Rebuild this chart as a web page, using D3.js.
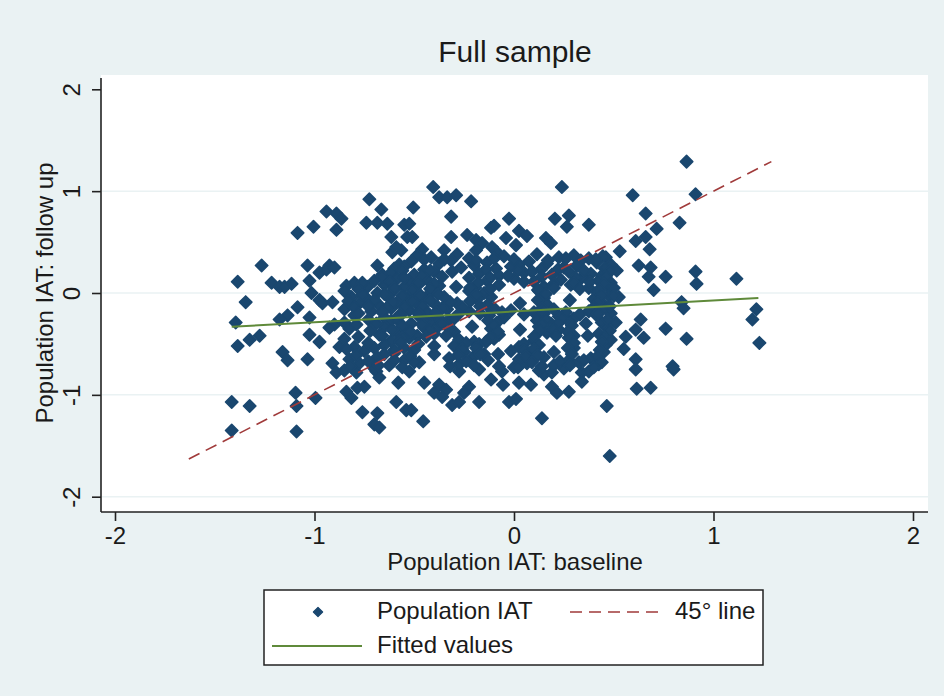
<!DOCTYPE html>
<html><head><meta charset="utf-8">
<script src="https://cdn.jsdelivr.net/npm/d3@7"></script>
<style>
html,body{margin:0;padding:0;background:#eaf2f3;}
text{font-family:"Liberation Sans",Arial,sans-serif;fill:#1a1a1a;}
</style></head><body>
<script>
// ---- data: [baseline IAT, follow-up IAT] ----
const upperPoints = [
[-0.725,0.92],[-0.665,0.82],[-0.94,0.80],[-0.89,0.78],[-0.865,0.73],[-0.74,0.69],[-0.685,0.69],[-0.635,0.68],[-0.55,0.67],[-1.005,0.65],[-1.085,0.59],[-0.89,0.62],[-0.615,0.55],[-0.61,0.40],[-0.565,0.42],[-0.59,0.45],[-0.535,0.55],
[-0.405,1.04],[-0.375,0.94],[-0.335,0.94],[-0.29,0.96],[-0.215,0.90],[-0.505,0.84],[-0.315,0.75],[-0.025,0.73],[-0.115,0.64],[-0.10,0.66],[-0.235,0.57],[0.025,0.61],[0.065,0.56],[0.24,1.04],[0.205,0.73],[0.275,0.76],[0.265,0.65],[0.375,0.67],[-0.315,0.55],[-0.51,0.55],[0.16,0.54],[0.185,0.49],[-0.19,0.52],[-0.16,0.49],[-0.04,0.54],[0.01,0.47],[-0.46,0.43],[-0.35,0.42],[-0.11,0.45],[-0.19,0.42],[-0.085,0.40],[-0.525,0.68],
[0.865,1.29],[0.595,0.96],[0.91,0.97],[0.66,0.78],[0.83,0.69],[0.715,0.63],[0.61,0.51],[0.66,0.55],[0.68,0.43],[0.53,0.41],[0.46,0.35]
];
const leftPoints = [
[-1.265,0.27],[-1.035,0.27],[-0.925,0.27],[-0.975,0.20],[-0.94,0.23],[-0.90,0.25],[-0.685,0.27],[-0.575,0.28],[-0.66,0.18],[-1.385,0.11],[-1.215,0.10],[-1.175,0.06],[-1.115,0.09],[-1.15,0.06],[-1.025,0.12],[-1.015,0.00],[-0.84,0.07],[-0.80,0.10],[-0.735,0.06],[-0.975,-0.07],[-0.91,-0.09],[-0.96,-0.10],[-1.345,-0.09],[-1.085,-0.14],[-1.135,-0.22],[-1.175,-0.26],[-1.025,-0.24],[-1.395,-0.29],[-0.90,-0.31],[-0.925,-0.34],[-1.025,-0.41],[-0.975,-0.48],[-1.325,-0.46],[-1.275,-0.42],[-1.385,-0.52],[-1.16,-0.58],[-1.135,-0.66],[-1.035,-0.65],[-0.875,-0.53],[-0.91,-0.69]
];
const rightPoints = [
[0.625,0.27],[0.685,0.25],[0.675,0.16],[0.76,0.16],[0.91,0.21],[0.915,0.09],[1.115,0.14],[0.70,0.03],[0.525,-0.04],[0.84,-0.09],[0.85,-0.15],[0.485,-0.20],[1.215,-0.16],[1.195,-0.26],[0.635,-0.26],[0.61,-0.36],[0.65,-0.44],[0.51,-0.29],[0.76,-0.35],[0.56,-0.43],[0.865,-0.45],[1.23,-0.49],[0.46,-0.51],[0.55,-0.55],[0.61,-0.65],[0.795,-0.72]
];
const lowerPoints = [
[-1.415,-1.07],[-1.325,-1.11],[-1.415,-1.35],[-1.095,-0.98],[-1.09,-1.11],[-1.09,-1.36],[-0.995,-1.03],[-0.89,-0.78],[-0.84,-0.97],[-0.815,-1.03],[-0.785,-0.93],[-0.75,-0.92],[-0.76,-1.17],[-0.685,-1.18],[-0.70,-1.29],[-0.675,-1.32],[-0.59,-1.07],[-0.58,-0.88],[-0.69,-0.77],[-0.675,-0.83],[-0.79,-0.78],[-0.54,-1.15],
[-0.45,-0.88],[-0.375,-0.90],[-0.40,-0.98],[-0.36,-1.02],[-0.34,-0.95],[-0.31,-1.10],[-0.275,-1.07],[-0.225,-0.92],[-0.25,-0.98],[-0.175,-1.07],[-0.115,-0.85],[-0.055,-0.90],[-0.025,-1.07],[0.01,-1.04],[0.025,-0.88],[0.085,-0.90],[0.14,-1.23],[-0.455,-1.26],[-0.515,-1.15],[0.15,-0.80],[0.19,-0.78],[0.19,-0.92],[0.215,-0.98],[0.275,-0.97],[0.34,-0.78],[0.34,-0.87],[-0.275,-0.77],[-0.06,-0.77],
[0.615,-0.94],[0.685,-0.93],[0.465,-1.11],[0.48,-1.60],[0.80,-0.75],[0.61,-0.75]
];
const corePoints = [
[-0.485,0.37],[-0.415,0.35],[-0.285,0.38],[-0.225,0.34],[-0.05,0.36],[0.115,0.38],[0.225,0.35],[0.30,0.37],[0.375,0.34],[0.445,0.36],
[-0.515,0.31],[-0.375,0.29],[-0.315,0.32],[-0.135,0.30],[0.025,0.28],[0.075,0.31],[0.165,0.29],[0.335,0.32],[0.415,0.30],[0.485,0.28],
[-0.60,0.24],[-0.55,0.26],[-0.45,0.23],[-0.265,0.25],[-0.20,0.27],[-0.09,0.24],[-0.015,0.26],[0.135,0.23],[0.25,0.25],[0.315,0.27],[0.455,0.24],[0.515,0.22],
[-0.615,0.20],[-0.50,0.18],[-0.40,0.21],[-0.175,0.19],[-0.075,0.17],[0.05,0.20],[0.19,0.18],[0.275,0.21],[0.385,0.19],[0.44,0.17],
[-0.70,0.12],[-0.585,0.14],[-0.525,0.11],[-0.435,0.13],[-0.225,0.15],[-0.135,0.12],[0,0.14],[0.10,0.11],[0.235,0.13],[0.34,0.15],[0.425,0.12],[0.485,0.10],
[-0.65,0.08],[-0.55,0.06],[-0.475,0.09],[-0.375,0.07],[-0.195,0.05],[-0.075,0.08],[0.15,0.06],[0.285,0.08],[0.375,0.05],[0.465,0.07],
[-0.85,0.02],[-0.685,0.00],[-0.60,0.03],[-0.50,0.01],[-0.425,-0.01],[-0.225,0.02],[-0.15,0.00],[0.125,0.02],[0.415,0.01],
[-0.815,-0.04],[-0.735,-0.06],[-0.635,-0.03],[-0.535,-0.05],[-0.45,-0.07],[-0.35,-0.04],[-0.185,-0.06],[-0.115,-0.04],[0.15,-0.05],[0.40,-0.06],[0.475,-0.03],
[-0.775,-0.10],[-0.675,-0.12],[-0.585,-0.09],[-0.485,-0.11],[-0.385,-0.13],[-0.285,-0.10],[-0.135,-0.12],[0.165,-0.11],[0.44,-0.10],
[-0.85,-0.16],[-0.715,-0.18],[-0.615,-0.15],[-0.525,-0.17],[-0.435,-0.19],[-0.335,-0.16],[-0.225,-0.18],[-0.10,-0.15],[-0.015,-0.17],[0.10,-0.19],[0.20,-0.16],[0.375,-0.18],[0.45,-0.15],
[-0.80,-0.22],[-0.65,-0.24],[-0.565,-0.21],[-0.475,-0.23],[-0.375,-0.25],[-0.125,-0.22],[-0.05,-0.24],[0.125,-0.21],[0.225,-0.23],[0.30,-0.25],[0.415,-0.22],
[-0.85,-0.29],[-0.615,-0.27],[-0.515,-0.30],[-0.415,-0.28],[-0.325,-0.26],[-0.085,-0.29],[0.115,-0.27],[0.185,-0.30],[0.275,-0.28],[0.44,-0.29],
[-0.825,-0.35],[-0.65,-0.33],[-0.55,-0.36],[-0.45,-0.34],[-0.375,-0.32],[-0.115,-0.35],[0.125,-0.33],[0.225,-0.36],[0.465,-0.34],
[-0.675,-0.41],[-0.585,-0.39],[-0.485,-0.42],[-0.40,-0.40],[-0.30,-0.38],[-0.075,-0.41],[0.165,-0.39],[0.30,-0.42],[0.425,-0.40],
[-0.85,-0.45],[-0.615,-0.47],[-0.525,-0.44],[-0.275,-0.46],[-0.20,-0.48],[-0.10,-0.45],[0.10,-0.47],[0.275,-0.44],[0.485,-0.46],
[-0.80,-0.53],[-0.65,-0.51],[-0.55,-0.54],[-0.30,-0.52],[-0.175,-0.50],[0.025,-0.53],[0.125,-0.51],[0.30,-0.54],
[-0.75,-0.57],[-0.60,-0.59],[-0.50,-0.56],[-0.25,-0.58],[-0.15,-0.60],[-0.015,-0.57],[0.075,-0.59],[0.45,-0.58],
[-0.825,-0.65],[-0.685,-0.63],[-0.55,-0.66],[-0.325,-0.64],[-0.20,-0.62],[0.025,-0.65],[0.15,-0.63],[0.275,-0.66],[0.385,-0.64],
[-0.775,-0.69],[-0.625,-0.71],[-0.475,-0.68],[-0.275,-0.70],[-0.075,-0.72],[0.065,-0.69],[0.20,-0.71],[0.325,-0.68],[0.425,-0.70],
[-0.85,-0.76],[-0.70,-0.74],[-0.525,-0.77],[-0.175,-0.75],[0,-0.73],[0.125,-0.76],[0.25,-0.74],[0.375,-0.77]
];
const coreExtraPoints = [
[-0.45,0.33],[-0.35,0.33],[-0.19,0.32],[-0.10,0.34],[0.0,0.33],[0.17,0.32],[0.26,0.34],[0.41,0.33],
[-0.56,0.22],[-0.42,0.22],[-0.31,0.21],[-0.14,0.23],[0.02,0.22],[0.09,0.21],[0.22,0.23],[0.35,0.22],[0.48,0.21],
[-0.66,0.16],[-0.55,0.15],[-0.46,0.17],[-0.36,0.16],[-0.12,0.15],[-0.03,0.17],[0.14,0.16],[0.31,0.15],[0.46,0.16],
[-0.76,0.10],[-0.62,0.11],[-0.48,0.10],[-0.40,0.09],[-0.18,0.10],[0.05,0.11],[0.20,0.09],[0.30,0.10],[0.38,0.11],[0.45,0.09],
[-0.78,0.04],[-0.60,0.05],[-0.51,0.03],[-0.42,0.04],[-0.22,0.05],[-0.12,0.04],[0.12,0.03],[0.20,0.05],[0.33,0.04],[0.43,0.03],[0.50,0.05],
[-0.76,-0.02],[-0.65,-0.01],[-0.56,-0.03],[-0.47,-0.02],[-0.38,-0.01],[-0.19,-0.02],[0.16,-0.01],[0.44,-0.02],[0.50,-0.03],
[-0.83,-0.08],[-0.70,-0.07],[-0.61,-0.09],[-0.51,-0.08],[-0.42,-0.07],[-0.32,-0.09],[-0.22,-0.08],[0.12,-0.07],[0.42,-0.09],
[-0.80,-0.14],[-0.73,-0.13],[-0.64,-0.15],[-0.55,-0.14],[-0.46,-0.13],[-0.36,-0.15],[-0.26,-0.14],[-0.17,-0.13],[0.14,-0.15],[0.40,-0.14],[0.48,-0.13],
[-0.78,-0.20],[-0.66,-0.19],[-0.57,-0.21],[-0.48,-0.20],[-0.39,-0.19],[-0.28,-0.21],[-0.17,-0.20],[-0.06,-0.19],[0.05,-0.21],[0.15,-0.20],[0.26,-0.19],[0.33,-0.21],[0.42,-0.20],
[-0.73,-0.26],[-0.59,-0.25],[-0.45,-0.27],[-0.37,-0.26],[-0.30,-0.25],[-0.13,-0.27],[0.16,-0.26],[0.24,-0.25],[0.47,-0.26],
[-0.79,-0.31],[-0.69,-0.30],[-0.56,-0.32],[-0.46,-0.31],[-0.36,-0.30],[-0.10,-0.32],[0.14,-0.31],[0.22,-0.30],[0.29,-0.32],
[-0.72,-0.37],[-0.61,-0.36],[-0.52,-0.38],[-0.42,-0.37],[-0.32,-0.36],[-0.08,-0.38],[0.13,-0.37],[0.20,-0.36],[0.27,-0.38],[0.48,-0.37],
[-0.78,-0.43],[-0.66,-0.42],[-0.56,-0.44],[-0.44,-0.43],[-0.34,-0.42],[-0.12,-0.44],[0.10,-0.43],[0.21,-0.42],[0.28,-0.44],[0.45,-0.43],
[-0.73,-0.49],[-0.57,-0.48],[-0.48,-0.50],[-0.24,-0.49],[-0.14,-0.48],[0.05,-0.50],[0.30,-0.49],[0.44,-0.48],
[-0.84,-0.55],[-0.70,-0.54],[-0.60,-0.56],[-0.26,-0.55],[-0.19,-0.54],[0.05,-0.56],[0.10,-0.55],[0.27,-0.54],[0.43,-0.56],
[-0.79,-0.61],[-0.65,-0.60],[-0.52,-0.62],[-0.28,-0.61],[-0.17,-0.60],[0.06,-0.62],[0.12,-0.61],[0.29,-0.60],[0.42,-0.62],
[-0.73,-0.67],[-0.60,-0.66],[-0.50,-0.68],[-0.24,-0.67],[-0.13,-0.66],[0.09,-0.68],[0.23,-0.67],[0.35,-0.66],[0.44,-0.68],
[-0.82,-0.72],[-0.68,-0.71],[-0.56,-0.73],[-0.32,-0.72],[-0.20,-0.71],[0.02,-0.73],[0.14,-0.72],[0.28,-0.71],[0.40,-0.73],
[0.28,-0.07],[0.37,-0.42],[0.03,-0.10],[-0.21,-0.33],[0.03,-0.36],[-0.08,-0.60],[-0.40,-0.60],[0.20,-0.58],[-0.29,0.06],[0.36,-0.30],[-0.40,-0.52]
];
const diagLine = [[-1.63,-1.63],[1.29,1.29]];          // 45° line
const fittedLine = [[-1.415,-0.332],[1.225,-0.050]];   // fitted values
const xTicks = [-2,-1,0,1,2];
const yTicks = [-2,-1,0,1,2];
const gridY = [-2,-1,0,1];
const titleText = "Full sample";
const xLabel = "Population IAT: baseline";
const yLabel = "Population IAT: follow up";
const legendLabels = ["Population IAT","45° line","Fitted values"];

const points = [].concat(upperPoints,leftPoints,rightPoints,lowerPoints,corePoints,coreExtraPoints);

const W=944,H=696;
const svg=d3.select("body").append("svg").attr("width",W).attr("height",H);
svg.append("rect").attr("width",W).attr("height",H).attr("fill","#eaf2f3");

const x=d3.scaleLinear().domain([-2,2]).range([115,913]);
const y=d3.scaleLinear().domain([-2,2]).range([496.7,89.3]);
const L=101,R=928,T=75,B=512;

svg.append("rect").attr("x",L).attr("y",T).attr("width",R-L).attr("height",B-T).attr("fill","#fff");

svg.append("g").selectAll("line").data(gridY).join("line")
  .attr("x1",L+1).attr("x2",R).attr("y1",d=>y(d)).attr("y2",d=>y(d))
  .attr("stroke","#eaf2f3").attr("stroke-width",1.5);

// points
const diamond="M0,-6.2L6.2,0L0,6.2L-6.2,0Z";
svg.append("g").selectAll("path").data(points).join("path")
  .attr("d",diamond).attr("transform",d=>`translate(${x(d[0])},${y(d[1])})`)
  .attr("fill","#1a476f").attr("stroke","#1a476f").attr("stroke-width",1.6).attr("stroke-linejoin","round");

const line=d3.line().x(d=>x(d[0])).y(d=>y(d[1]));
svg.append("path").datum(diagLine).attr("d",line).attr("fill","none")
  .attr("stroke","#a03a3a").attr("stroke-width",1.6).attr("stroke-dasharray","12,7");
svg.append("path").datum(fittedLine).attr("d",line).attr("fill","none")
  .attr("stroke","#5f8a3a").attr("stroke-width",2);

// axes
const yAxis=svg.append("g").attr("transform",`translate(${L},0)`)
  .call(d3.axisLeft(y).tickValues(yTicks).tickSize(9).tickFormat(d3.format("d")));
yAxis.select(".domain").attr("d",`M0,${T+3}V${B}`).attr("stroke","#222").attr("stroke-width",1.6);
yAxis.selectAll(".tick line").attr("stroke","#222").attr("stroke-width",1.6);
yAxis.selectAll(".tick text").attr("x",null).attr("y",null).attr("dy","0")
  .attr("transform","translate(-21,0) rotate(-90)").attr("text-anchor","middle")
  .style("font-size","24px").style("font-family","Liberation Sans, Arial, sans-serif").attr("fill","#1a1a1a")
  .text(d=>String(d));

const xAxis=svg.append("g").attr("transform",`translate(0,${B})`)
  .call(d3.axisBottom(x).tickValues(xTicks).tickSize(9).tickFormat(d3.format("d")));
xAxis.select(".domain").attr("d",`M${L},0H${R}`).attr("stroke","#222").attr("stroke-width",1.6);
xAxis.selectAll(".tick line").attr("stroke","#222").attr("stroke-width",1.6);
xAxis.selectAll(".tick text").attr("y",32).attr("dy","0").style("font-size","24px")
  .style("font-family","Liberation Sans, Arial, sans-serif").attr("fill","#1a1a1a").text(d=>String(d));

svg.append("text").attr("x",515).attr("y",62).attr("text-anchor","middle").style("font-size","30px").text(titleText);
svg.append("text").attr("x",515).attr("y",570).attr("text-anchor","middle").style("font-size","24px").text(xLabel);
svg.append("text").attr("transform","translate(53,293) rotate(-90)").attr("text-anchor","middle").style("font-size","24px").text(yLabel);

// legend
const lg=svg.append("g");
lg.append("rect").attr("x",264).attr("y",590).attr("width",499).attr("height",75)
  .attr("fill","#fff").attr("stroke","#222").attr("stroke-width",1.5);
lg.append("path").attr("d",diamond).attr("transform","translate(318,612) scale(0.75)").attr("fill","#1a476f")
  .attr("stroke","#1a476f").attr("stroke-width",1.5).attr("stroke-linejoin","round");
lg.append("text").attr("x",377).attr("y",619).style("font-size","24px").text(legendLabels[0]);
lg.append("line").attr("x1",570).attr("x2",658).attr("y1",612).attr("y2",612)
  .attr("stroke","#a03a3a").attr("stroke-width",1.6).attr("stroke-dasharray","12,7");
lg.append("text").attr("x",675).attr("y",619).style("font-size","24px").text(legendLabels[1]);
lg.append("line").attr("x1",272).attr("x2",362).attr("y1",646).attr("y2",646)
  .attr("stroke","#5f8a3a").attr("stroke-width",2);
lg.append("text").attr("x",377).attr("y",653).style("font-size","24px").text(legendLabels[2]);
</script>
</body></html>
